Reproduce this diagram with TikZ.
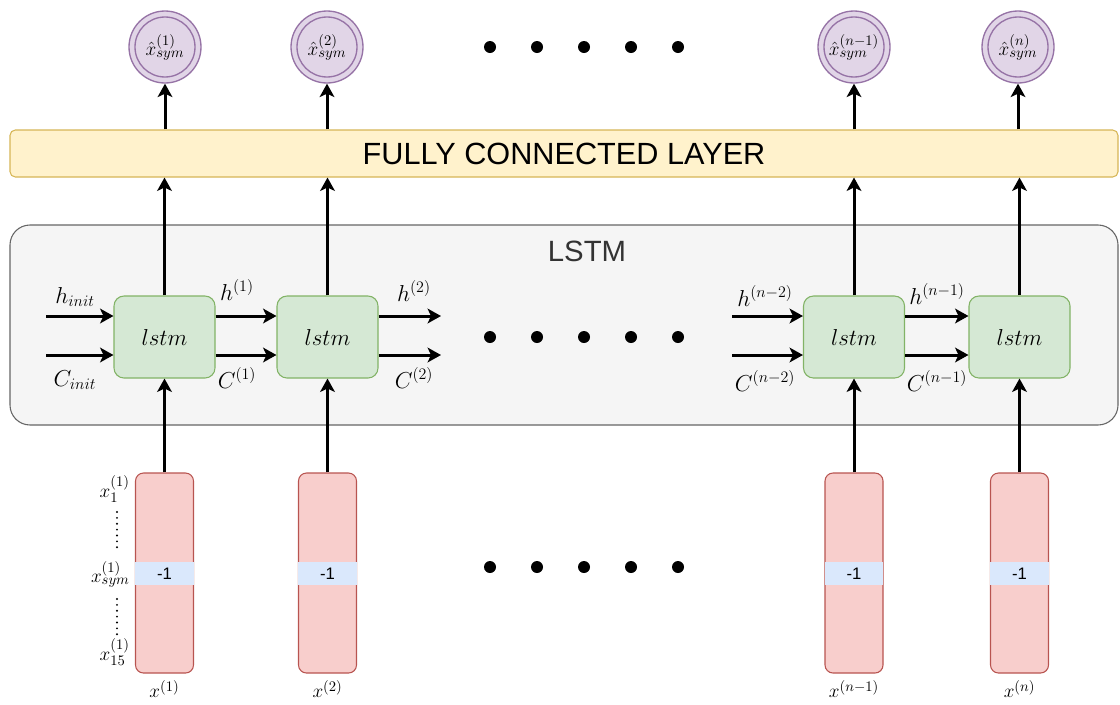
\documentclass[tikz,border=0pt]{standalone}
\usepackage{fontspec}
\setsansfont{Liberation Sans}
\usetikzlibrary{arrows.meta}
\definecolor{purpfill}{HTML}{E1D5E7}
\definecolor{purpline}{HTML}{9673A6}
\definecolor{yelfill}{HTML}{FFF2CC}
\definecolor{yelline}{HTML}{D6B656}
\definecolor{grayfill}{HTML}{F5F5F5}
\definecolor{grayline}{HTML}{666666}
\definecolor{grnfill}{HTML}{D5E8D4}
\definecolor{grnline}{HTML}{82B366}
\definecolor{redfill}{HTML}{F8CECC}
\definecolor{redline}{HTML}{B85450}
\definecolor{bluefill}{HTML}{DAE8FC}
\definecolor{labelgray}{HTML}{333333}
\begin{document}
\begin{tikzpicture}[x=0.75pt,y=-0.75pt,
  outcirc/.style={circle,draw=purpline,fill=purpfill,line width=1pt,minimum size=54pt,inner sep=0pt,font=\fontsize{15.5}{18}\selectfont},
  innring/.style={draw=purpline,line width=1pt},
  fcbox/.style={rectangle,rounded corners=4pt,draw=yelline,fill=yelfill,line width=0.8pt,minimum width=831pt,minimum height=35.25pt,font=\sffamily\fontsize{23}{26}\selectfont},
  container/.style={rectangle,rounded corners=15pt,draw=grayline,fill=grayfill,line width=0.8pt,minimum width=831pt,minimum height=150pt},
  cell/.style={rectangle,rounded corners=7.5pt,draw=grnline,fill=grnfill,line width=0.8pt,minimum width=75.75pt,minimum height=61.5pt,font=\fontsize{17}{20}\selectfont},
  inbar/.style={rectangle,rounded corners=6pt,draw=redline,fill=redfill,line width=0.8pt,minimum width=43.5pt,minimum height=150pt},
  band/.style={rectangle,fill=bluefill,minimum width=44pt,minimum height=17.25pt,inner sep=0pt,font=\sffamily\fontsize{12.5}{14}\selectfont},
  dotmark/.style={circle,fill=black,minimum size=9pt,inner sep=0pt},
  flow/.style={line width=2.25pt,-{Stealth[length=10pt,width=11pt,inset=2.5pt]}},
  mlab/.style={font=\fontsize{17}{20}\selectfont,inner sep=0pt},
  xlab/.style={font=\fontsize{15.5}{18}\selectfont,inner sep=0pt},
  sidelab/.style={font=\fontsize{15.5}{18}\selectfont,inner sep=0pt,anchor=east},
  vdots/.style={line width=1.6pt,dash pattern=on 0pt off 4.4pt,line cap=round}
]
\useasboundingbox (0,0) rectangle (1120,704);

% LSTM container and fully connected layer
\node[container] (lstmbox) at (564,325) {};
\node[font=\sffamily\fontsize{22}{26}\selectfont,text=labelgray] (lstmtitle) at (587,251) {LSTM};
\node[fcbox] (fc) at (564,153.5) {FULLY CONNECTED LAYER};

% output neurons (double-ringed circles)
\foreach \name/\px/\lbl in {o1/165/{(1)}, o2/327/{(2)}, o3/854/{(n-1)}, o4/1018/{(n)}}{
  \node[outcirc] (\name) at (\px,47) {$\hat{x}^{\lbl}_{sym}$};
  \draw[innring] (\name.center) circle[radius=22.5pt];
}

% lstm cells
\node[cell] (c1) at (164.5,337) {$lstm$};
\node[cell] (c2) at (327.5,337) {$lstm$};
\node[cell] (c3) at (854,337) {$lstm$};
\node[cell] (c4) at (1019.5,337) {$lstm$};

% input vectors
\foreach \name/\px/\lbl in {b1/164.5/{(1)}, b2/327.5/{(2)}, b3/854/{(n-1)}, b4/1019.5/{(n)}}{
  \node[inbar] (\name) at (\px,573) {};
  \node[band] (\name s) at (\px,573.5) {-1};
  \node[xlab] (\name x) at (\px,689) {$x^{\lbl}$};
}

% ellipsis dots
\foreach \row in {47,337,567}{
  \foreach \px [count=\k] in {490,537,584,631,678}{
    \node[dotmark] (d\row-\k) at (\px,\row) {};
  }
}

% vertical connections
\foreach \c in {1,2,3,4}{
  \draw[flow] (b\c.north) -- (b\c.north |- c\c.south);
  \draw[flow] (c\c.north) -- (c\c.north |- fc.south);
  \draw[flow] (o\c.south |- fc.north) -- (o\c.south);
}

% recurrent state connections
\coordinate (hin) at (46,316);
\coordinate (cin) at (46,355);
\coordinate (hout) at (441,316);
\coordinate (cout) at (441,355);
\coordinate (hin3) at (732,316);
\coordinate (cin3) at (732,355);
\draw[flow] (hin) -- (hin -| c1.west);
\draw[flow] (cin) -- (cin -| c1.west);
\draw[flow] (c1.east |- hin) -- (c2.west |- hin);
\draw[flow] (c1.east |- cin) -- (c2.west |- cin);
\draw[flow] (c2.east |- hout) -- (hout);
\draw[flow] (c2.east |- cout) -- (cout);
\draw[flow] (hin3) -- (hin3 -| c3.west);
\draw[flow] (cin3) -- (cin3 -| c3.west);
\draw[flow] (c3.east |- hin) -- (c4.west |- hin);
\draw[flow] (c3.east |- cin) -- (c4.west |- cin);

% state labels
\node[mlab] (lh0) at (75,297) {$h_{init}$};
\node[mlab] (lc0) at (75,380) {$C_{init}$};
\node[mlab] (lh1) at (237,290) {$h^{(1)}$};
\node[mlab] (lc1) at (237,378) {$C^{(1)}$};
\node[mlab] (lh2) at (414,291) {$h^{(2)}$};
\node[mlab] (lc2) at (414,378) {$C^{(2)}$};
\node[mlab] (lh3) at (765,296) {$h^{(n-2)}$};
\node[mlab] (lc3) at (765,381) {$C^{(n-2)}$};
\node[mlab] (lh4) at (937,294) {$h^{(n-1)}$};
\node[mlab] (lc4) at (937,381) {$C^{(n-1)}$};

% feature labels beside the first input vector
\node[sidelab] (f1) at (130,489) {$x^{(1)}_{1}$};
\node[sidelab] (fs) at (130,574) {$x^{(1)}_{sym}$};
\node[sidelab] (f15) at (130,652) {$x^{(1)}_{15}$};
\draw[vdots] (117,512) -- (117,550);
\draw[vdots] (117,599) -- (117,635);
\end{tikzpicture}
\end{document}
